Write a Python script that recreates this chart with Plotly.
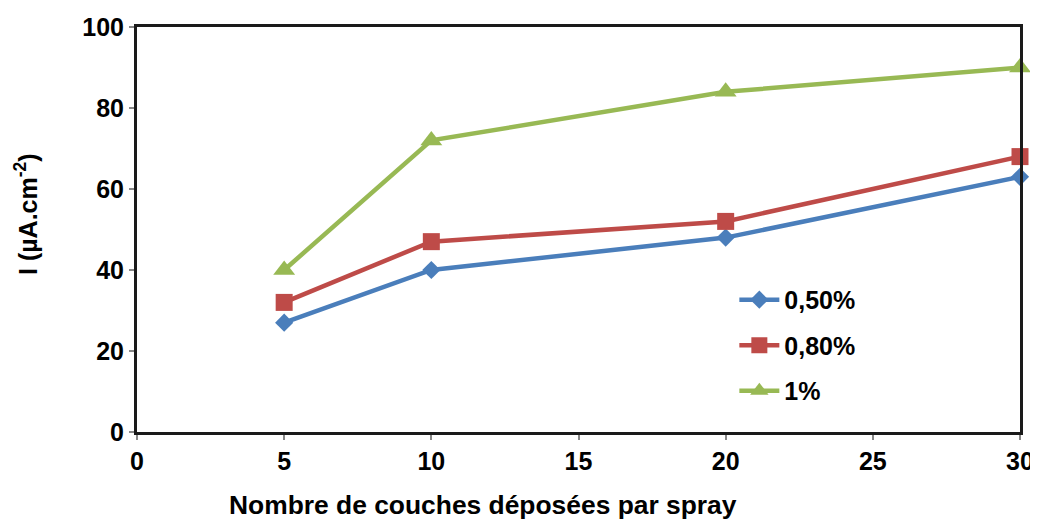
import plotly.graph_objects as go

x_layers = [5, 10, 20, 30]
series_names = ["0,50%", "0,80%", "1%"]
i_050 = [27, 40, 48, 63]
i_080 = [32, 47, 52, 68]
i_100 = [40, 72, 84, 90]

colors = ["#4A7EBB", "#BE4B48", "#98B954"]
symbols = ["diamond", "square", "triangle-up"]
sizes = [14, 17, 19]

FONT = "Liberation Sans, Arial, sans-serif"

# page body has an 8px margin, so the figure is sized/placed to compensate
W, H = 1030, 513

fig = go.Figure()
for name, ys, c, s, sz in zip(series_names, [i_050, i_080, i_100], colors, symbols, sizes):
    fig.add_trace(go.Scatter(
        x=x_layers, y=ys, name=name, mode="lines+markers",
        line=dict(color=c, width=4.5),
        marker=dict(symbol=s, size=sz, color=c),
        legendgroup=name, cliponaxis=False,
    ))

fig.update_layout(
    width=W, height=H,
    margin=dict(l=129, r=18, t=19, b=89),
    paper_bgcolor="white", plot_bgcolor="white",
    font=dict(family=FONT, size=25, color="black"),
    showlegend=True,
    legend=dict(x=0.6765, y=0.383, xanchor="left", yanchor="top",
                font=dict(family=FONT, size=25, color="black", weight="bold"),
                bgcolor="rgba(0,0,0,0)", tracegroupgap=10, traceorder="grouped", itemwidth=40),
    annotations=[
        dict(text="<b>Nombre de couches déposées par spray</b>", xref="paper", yref="paper",
             x=(483 - 137) / 883, y=-(505 - 432) / 405, xanchor="center", yanchor="middle",
             showarrow=False, font=dict(family=FONT, size=26.4, color="black")),
        dict(text="<b>I (µA.cm<sup>-2</sup>)</b>", xref="paper", yref="paper",
             x=-(137 - 26) / 883, y=(432 - 214) / 405, xanchor="center", yanchor="middle",
             textangle=-90, showarrow=False, font=dict(family=FONT, size=25, color="black")),
    ],
)
fig.update_xaxes(
    range=[0, 30], tickvals=[0, 5, 10, 15, 20, 25, 30], showgrid=False, zeroline=False,
    showline=True, linecolor="#1a1a1a", linewidth=3, mirror=True, automargin=False,
    ticks="outside", ticklen=5, tickcolor="#888", tickwidth=1.5,
    tickfont=dict(family=FONT, size=25, color="black", weight="bold"),
)
fig.update_yaxes(
    range=[0, 100], tickvals=[0, 20, 40, 60, 80, 100], showgrid=False, zeroline=False,
    showline=True, linecolor="#1a1a1a", linewidth=3, mirror=True, automargin=False,
    ticks="outside", ticklen=5, tickcolor="#888", tickwidth=1.5,
    tickfont=dict(family=FONT, size=25, color="black", weight="bold"),
)

fig.write_html("out.html")
